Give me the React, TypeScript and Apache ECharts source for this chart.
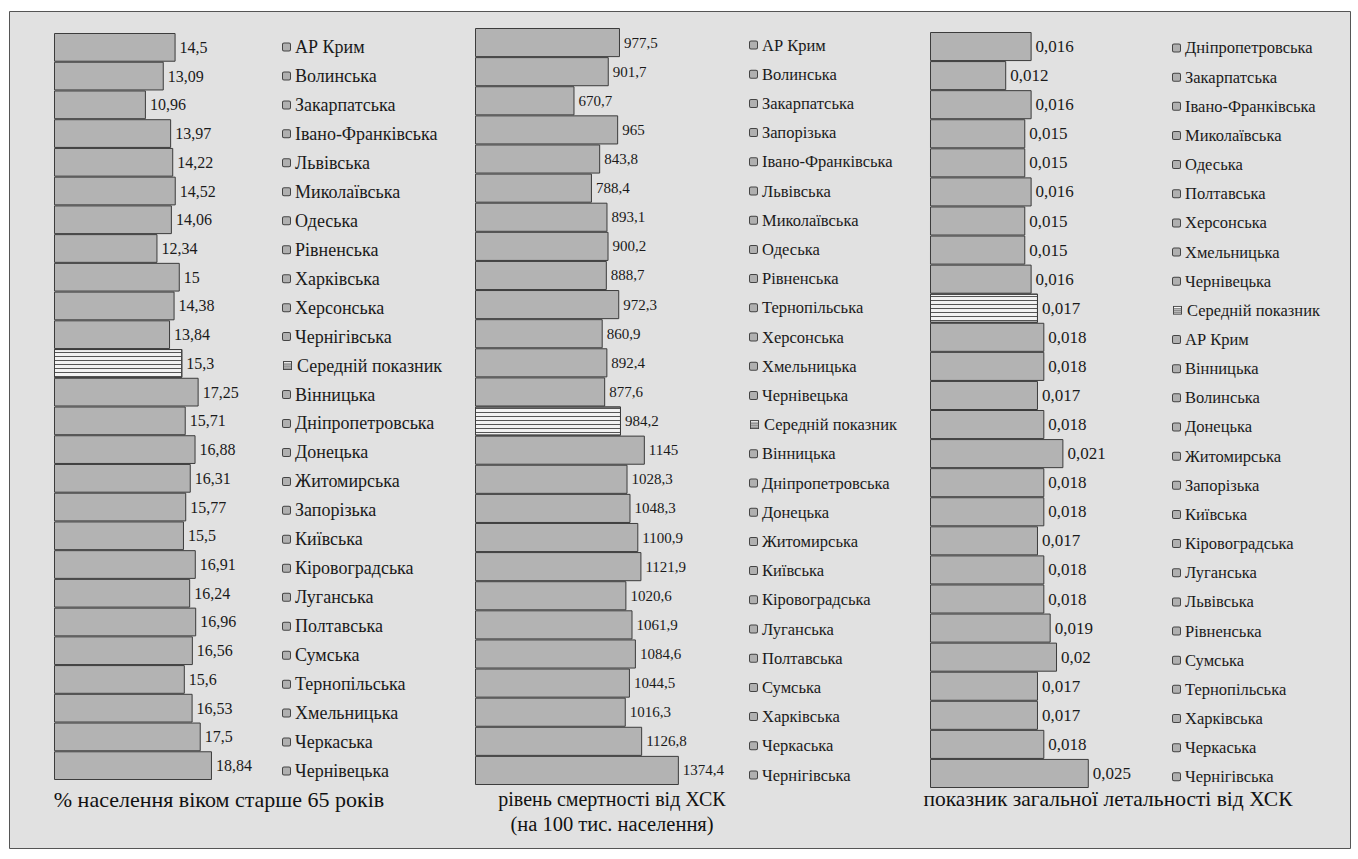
import React, { useEffect, useRef } from "react";
import * as echarts from "echarts";

const AVG = "Середній показник";

const regions1 = ["АР Крим", "Волинська", "Закарпатська", "Івано-Франківська", "Львівська", "Миколаївська", "Одеська", "Рівненська", "Харківська", "Херсонська", "Чернігівська", AVG, "Вінницька", "Дніпропетровська", "Донецька", "Житомирська", "Запорізька", "Київська", "Кіровоградська", "Луганська", "Полтавська", "Сумська", "Тернопільська", "Хмельницька", "Черкаська", "Чернівецька"];
const values1 = [14.5, 13.09, 10.96, 13.97, 14.22, 14.52, 14.06, 12.34, 15, 14.38, 13.84, 15.3, 17.25, 15.71, 16.88, 16.31, 15.77, 15.5, 16.91, 16.24, 16.96, 16.56, 15.6, 16.53, 17.5, 18.84];

const regions2 = ["АР Крим", "Волинська", "Закарпатська", "Запорізька", "Івано-Франківська", "Львівська", "Миколаївська", "Одеська", "Рівненська", "Тернопільська", "Херсонська", "Хмельницька", "Чернівецька", AVG, "Вінницька", "Дніпропетровська", "Донецька", "Житомирська", "Київська", "Кіровоградська", "Луганська", "Полтавська", "Сумська", "Харківська", "Черкаська", "Чернігівська"];
const values2 = [977.5, 901.7, 670.7, 965, 843.8, 788.4, 893.1, 900.2, 888.7, 972.3, 860.9, 892.4, 877.6, 984.2, 1145, 1028.3, 1048.3, 1100.9, 1121.9, 1020.6, 1061.9, 1084.6, 1044.5, 1016.3, 1126.8, 1374.4];

const regions3 = ["Дніпропетровська", "Закарпатська", "Івано-Франківська", "Миколаївська", "Одеська", "Полтавська", "Херсонська", "Хмельницька", "Чернівецька", AVG, "АР Крим", "Вінницька", "Волинська", "Донецька", "Житомирська", "Запорізька", "Київська", "Кіровоградська", "Луганська", "Львівська", "Рівненська", "Сумська", "Тернопільська", "Харківська", "Черкаська", "Чернігівська"];
const values3 = [0.016, 0.012, 0.016, 0.015, 0.015, 0.016, 0.015, 0.015, 0.016, 0.017, 0.018, 0.018, 0.017, 0.018, 0.021, 0.018, 0.018, 0.017, 0.018, 0.018, 0.019, 0.02, 0.017, 0.017, 0.018, 0.025];

const title1 = "% населення віком старше 65 років";
const title2a = "рівень смертності від ХСК";
const title2b = "(на 100 тис. населення)";
const title3 = "показник загальної летальності від ХСК";

const FONT = "Liberation Serif, Times New Roman, serif";
const BAR = "#b3b3b3";
const EDGE = "#3c3c3c";

const stripeIcon =
  "data:image/svg+xml;utf8," +
  encodeURIComponent(
    "<svg xmlns='http://www.w3.org/2000/svg' width='9' height='9'><rect x='0.5' y='0.5' width='8' height='8' fill='#f4f4f4' stroke='#444'/><line x1='0' y1='3' x2='9' y2='3' stroke='#555'/><line x1='0' y1='5' x2='9' y2='5' stroke='#555'/><line x1='0' y1='7' x2='9' y2='7' stroke='#555'/></svg>"
  );

export default function App() {
  const ref = useRef<HTMLDivElement>(null);
  useEffect(() => {
    const chart = echarts.init(ref.current!, null, { renderer: "svg" });

    const panels = [
      { regions: regions1, values: values1, left: 54, top: 33, bottom: 79, right: 1086, max: 26, vSize: 16, lSize: 18, lx: 283, lTop: 32.5, lBottom: 73.5 },
      { regions: regions2, values: values2, left: 475, top: 28, bottom: 74, right: 616, max: 1800, vSize: 15, lSize: 16.5, lx: 750, lTop: 30.4, lBottom: 69.4 },
      { regions: regions3, values: values3, left: 930, top: 32, bottom: 71, right: 193, max: 0.037, vSize: 17, lSize: 16.5, lx: 1173, lTop: 33.4, lBottom: 67.6 },
    ];

    const fmt = (v: number) => String(v).replace(".", ",");

    const barGrids = panels.map((p) => ({ left: p.left, top: p.top, bottom: p.bottom, right: p.right }));
    const legendGrids = panels.map((p) => ({ left: p.lx - 20, top: p.lTop, bottom: p.lBottom, width: 10 }));

    const option: any = {
      animation: false,
      backgroundColor: "#ffffff",
      textStyle: { fontFamily: FONT },
      grid: [...barGrids, ...legendGrids],
      xAxis: [
        ...panels.map((p, i) => ({ type: "value", gridIndex: i, min: 0, max: p.max, show: false })),
        ...panels.map((p, i) => ({ type: "value", gridIndex: 3 + i, min: 0, max: 1, show: false })),
      ],
      yAxis: [
        ...panels.map((p, i) => ({
          type: "category",
          gridIndex: i,
          data: p.regions,
          inverse: true,
          show: false,
        })),
        ...panels.map((p, i) => ({
          type: "category",
          gridIndex: 3 + i,
          data: p.regions,
          inverse: true,
          position: "right",
          axisLine: { show: false },
          axisTick: { show: false },
          splitLine: { show: false },
          axisLabel: {
            margin: 10,
            align: "left",
            formatter: (name: string) => (name === AVG ? `{avg|}{t|${name}}` : `{box|}{t|${name}}`),
            rich: {
              box: { width: 7, height: 7, backgroundColor: "#b0b0b0", borderColor: "#444", borderWidth: 1, borderRadius: 1 },
              avg: { width: 9, height: 9, backgroundColor: { image: stripeIcon } },
              t: { fontFamily: FONT, fontSize: p.lSize, color: "#1a1a1a", padding: [0, 0, 0, 5] },
            },
          },
        })),
      ],
      series: panels.map((p, i) => ({
        type: "bar",
        xAxisIndex: i,
        yAxisIndex: i,
        barCategoryGap: "0%",
        itemStyle: { color: BAR, borderColor: EDGE, borderWidth: 1 },
        label: {
          show: true,
          position: "right",
          distance: 4,
          fontFamily: FONT,
          fontSize: p.vSize,
          color: "#1a1a1a",
          formatter: (d: any) => fmt(d.value),
        },
        data: p.values.map((v, k) =>
          p.regions[k] === AVG
            ? {
                value: v,
                itemStyle: {
                  color: "#f2f2f2",
                  borderColor: EDGE,
                  decal: { symbol: "rect", symbolSize: 1, dashArrayX: [1, 0], dashArrayY: [1, 3], color: "#555555", rotation: 0 },
                },
              }
            : v
        ),
      })),
      graphic: [
        {
          type: "rect",
          z: -10,
          silent: true,
          shape: { x: 9.5, y: 11.5, width: 1341, height: 837 },
          style: { fill: "#e1e1e1", stroke: "#555555", lineWidth: 1 },
        },
        { type: "text", x: 219, y: 799, style: { text: title1, font: `22px ${FONT}`, fill: "#111", align: "center", verticalAlign: "middle" } },
        { type: "text", x: 612, y: 799, style: { text: title2a, font: `20px ${FONT}`, fill: "#111", align: "center", verticalAlign: "middle" } },
        { type: "text", x: 612, y: 824, style: { text: title2b, font: `20.5px ${FONT}`, fill: "#111", align: "center", verticalAlign: "middle" } },
        { type: "text", x: 1108, y: 799, style: { text: title3, font: `21.5px ${FONT}`, fill: "#111", align: "center", verticalAlign: "middle" } },
      ],
    };

    chart.setOption(option);
    return () => chart.dispose();
  }, []);

  return <div ref={ref} style={{ position: "absolute", left: 0, top: 0, width: 1358, height: 859 }} />;
}
